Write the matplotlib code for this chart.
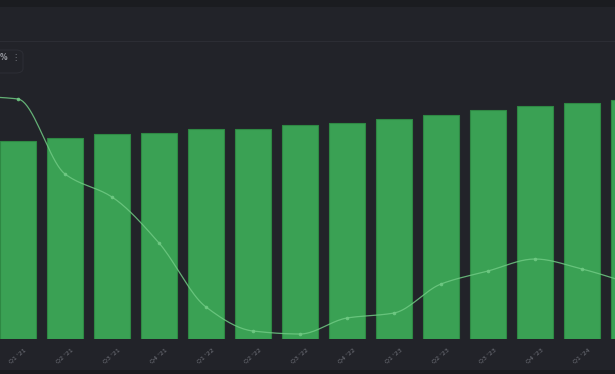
import numpy as np
import matplotlib
matplotlib.use("Agg")
import matplotlib.pyplot as plt
from matplotlib.patches import FancyBboxPatch, Rectangle

# quarters (first and last are only partly visible)
quarters = ["Q4 '20", "Q1 '21", "Q2 '21", "Q3 '21", "Q4 '21", "Q1 '22", "Q2 '22",
            "Q3 '22", "Q4 '22", "Q1 '23", "Q2 '23", "Q3 '23", "Q4 '23", "Q1 '24", "Q2 '24"]
# bar values
volume = [195, 198, 201, 205, 206, 210, 210, 214, 216, 220, 224, 229, 233, 236, 239]
# growth % line
growth = [24.3, 24.0, 16.5, 14.2, 9.6, 3.2, 0.8, 0.5, 2.1, 2.6, 5.5, 6.8, 8.0, 7.0, 5.6]

bg = "#222329"
bar_col = "#3aa154"
bar_edge = "#2e8843"
line_col = "#6fc983"
tick_col = "#70727a"

W, H = 615, 374
fig = plt.figure(figsize=(W / 100, H / 100), dpi=100)
fig.patch.set_facecolor(bg)

# dashboard chrome
fig.patches.append(Rectangle((0, 1 - 7 / H), 1, 7 / H, transform=fig.transFigure,
                             facecolor="#1b1c20", edgecolor="none"))
fig.patches.append(Rectangle((0, 0), 1, 4 / H, transform=fig.transFigure,
                             facecolor="#1b1c20", edgecolor="none"))
fig.lines.append(plt.Line2D([0, 1], [1 - 40.5 / H, 1 - 40.5 / H], transform=fig.transFigure,
                            color="#2c2d34", lw=0.8))
fig.patches.append(FancyBboxPatch((-10 / W, 1 - 73 / H), 33 / W, 23 / H,
                                  boxstyle="round,pad=0,rounding_size=0.012",
                                  transform=fig.transFigure, facecolor=bg,
                                  edgecolor="#2c2d34", lw=0.8))
fig.text(3.5 / W, 1 - 58 / H, "%", color="#9a9ca3", fontsize=5.5, fontweight="bold",
         ha="center", va="center")
fig.text(15.5 / W, 1 - 57.5 / H, "⋮", color="#7a7c84", fontsize=6, ha="center", va="center")

# plot area: bottom at px 339, top at px 40
ax = fig.add_axes([0, (H - 339) / H, 1, 299 / H])
ax.set_facecolor("none")
x = np.arange(len(quarters))
ax.bar(x, volume, width=36 / 47, color=bar_col, edgecolor=bar_edge, linewidth=0.8)
for s in ax.spines.values():
    s.set_visible(False)
ax.set_yticks([])
ax.set_xticks(x[1:])
ax.set_xticklabels(quarters[1:], rotation=40, ha="center", va="top", fontsize=4.5, color=tick_col)
ax.tick_params(axis="x", length=0, pad=6)
xlim = (1 - 18 / 47, 1 + (615 - 18) / 47)
ax.set_xlim(xlim)
ax.set_ylim(0, 299)

# smoothed growth line (monotone cubic through the points)
def monotone(xs, ys, n=20):
    xs = np.asarray(xs, float)
    ys = np.asarray(ys, float)
    d = np.diff(ys) / np.diff(xs)
    m = np.zeros_like(ys)
    m[0], m[-1] = d[0], d[-1]
    for i in range(1, len(ys) - 1):
        if d[i - 1] * d[i] <= 0:
            m[i] = 0
        else:
            m[i] = 2 / (1 / d[i - 1] + 1 / d[i])
    px, py = [], []
    for i in range(len(xs) - 1):
        h = xs[i + 1] - xs[i]
        t = np.linspace(0, 1, n, endpoint=False)
        h00 = 2 * t**3 - 3 * t**2 + 1
        h10 = t**3 - 2 * t**2 + t
        h01 = -2 * t**3 + 3 * t**2
        h11 = t**3 - t**2
        px.extend(xs[i] + t * h)
        py.extend(h00 * ys[i] + h10 * h * m[i] + h01 * ys[i + 1] + h11 * h * m[i + 1])
    px.append(xs[-1])
    py.append(ys[-1])
    return px, py

ax2 = fig.add_axes(ax.get_position(), sharex=ax)
ax2.set_facecolor("none")
sx, sy = monotone(x, growth)
ax2.plot(sx, sy, color=line_col, lw=0.9, alpha=0.85)
ax2.plot(x, growth, "o", color=line_col, ms=2.6, alpha=0.9, mec="none")
ax2.set_ylim(0, 29.9)
ax2.set_xlim(xlim)
ax2.axis("off")

fig.savefig("out.png", dpi=100, facecolor=bg)
